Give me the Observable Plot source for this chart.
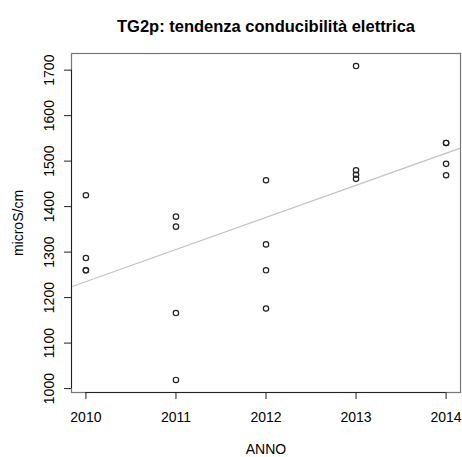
<!DOCTYPE html>
<html>
<head>
<meta charset="utf-8">
<script src="https://cdn.jsdelivr.net/npm/d3@7"></script>
<script src="https://cdn.jsdelivr.net/npm/@observablehq/plot@0.6"></script>
<style>
  html, body { margin: 0; padding: 0; background: #fff; }
  #chart svg { display: block; }
</style>
</head>
<body>
<div id="chart"></div>
<script>
const title = "TG2p: tendenza conducibilità elettrica";
const xLabel = "ANNO";
const yLabel = "microS/cm";
const anni = [2010, 2010, 2010, 2010, 2011, 2011, 2011, 2011, 2012, 2012, 2012, 2012, 2013, 2013, 2013, 2013, 2014, 2014, 2014, 2014];
const conducibilita = [1425, 1287, 1260, 1260, 1378, 1356, 1166, 1019, 1458, 1317, 1260, 1176, 1709, 1480, 1470, 1461, 1540, 1540, 1494, 1469];
const xTicks = [2010, 2011, 2012, 2013, 2014];
const yTicks = [1000, 1100, 1200, 1300, 1400, 1500, 1600, 1700];

const data = anni.map((a, i) => ({anno: a, valore: conducibilita[i]}));

// R-style 4% padded domains
function padded(arr) {
  const [lo, hi] = d3.extent(arr);
  const p = (hi - lo) * 0.04;
  return [lo - p, hi + p];
}
const xDom = padded(anni);
const yDom = padded(conducibilita);

// least-squares regression (abline)
const mx = d3.mean(anni), my = d3.mean(conducibilita);
const slope = d3.sum(data, d => (d.anno - mx) * (d.valore - my)) / d3.sum(data, d => (d.anno - mx) ** 2);
const intercept = my - slope * mx;
const fitLine = xDom.map(x => ({anno: x, valore: intercept + slope * x}));

const font = "'Liberation Sans', Arial, sans-serif";

const chart = Plot.plot({
  width: 462,
  height: 457,
  marginLeft: 71,
  marginRight: 2,
  marginTop: 53,
  marginBottom: 65,
  style: {fontFamily: font, fontSize: "14px", color: "#000", background: "#fff"},
  x: {domain: xDom},
  y: {domain: yDom},
  marks: [
    Plot.frame({stroke: "#777", strokeWidth: 1.2}),
    Plot.line(fitLine, {x: "anno", y: "valore", stroke: "#c4c4c4", strokeWidth: 1.2, clip: true}),
    Plot.dot(data, {x: "anno", y: "valore", r: 2.7, stroke: "#222", strokeWidth: 1.2, fill: "none"}),
    Plot.ruleY([yDom[0]], {x1: xTicks[0], x2: xTicks[xTicks.length - 1], stroke: "#222"}),
    Plot.ruleX([xDom[0]], {y1: yTicks[0], y2: yTicks[yTicks.length - 1], stroke: "#222"}),
    Plot.axisX({ticks: xTicks, tickFormat: "d", tickSize: 7, tickPadding: 13, stroke: "#222",
      label: xLabel, labelAnchor: "center", labelArrow: "none", labelOffset: 61, fontSize: 14}),
    Plot.axisY({ticks: yTicks, tickFormat: "d", tickSize: 7, tickPadding: 11, tickRotate: -90, stroke: "#222",
      label: yLabel, labelAnchor: "center", labelArrow: "none", labelOffset: 58, fontSize: 14}),
    Plot.text([title], {frameAnchor: "top", dy: -33, fontWeight: "bold", fontSize: 16.5, fill: "#000"})
  ]
});
document.getElementById("chart").appendChild(chart);
</script>
</body>
</html>
